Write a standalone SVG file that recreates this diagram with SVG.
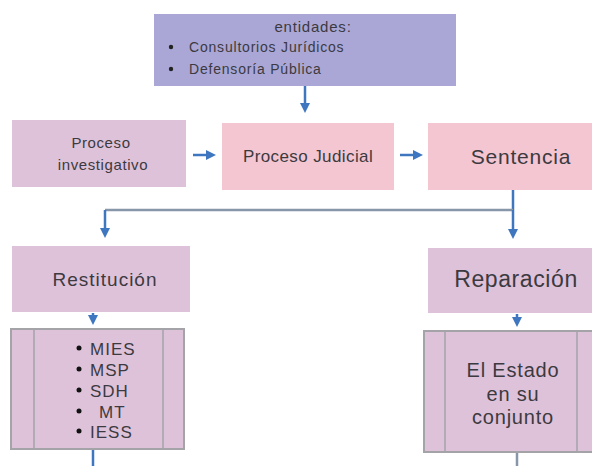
<svg xmlns="http://www.w3.org/2000/svg" width="592" height="466" viewBox="0 0 592 466">
<defs>
<style>
text{font-family:"Liberation Sans","DejaVu Sans",sans-serif;fill:#3c3a40}
.lav{fill:#aaa7d6}
.pink{fill:#f3c6d1}
.mauve{fill:#dec2da}
.box{fill:#dec2da;stroke:#a3a3a8;stroke-width:2}
.inner{stroke:#a3a3a8;stroke-width:1.5}
.arr{stroke:#3f76c0;stroke-width:2.5;fill:none}
.gl{stroke:#8796a8;stroke-width:2.5;fill:none}
</style>
<marker id="ah" markerWidth="4" markerHeight="4" refX="2" refY="2" orient="auto" markerUnits="strokeWidth">
<path d="M0,0 L4,2 L0,4 z" fill="#3f76c0"/>
</marker>
</defs>
<rect width="592" height="466" fill="#ffffff"/>
<g id="connectors">
<line class="arr" x1="305" y1="86" x2="305" y2="108" marker-end="url(#ah)"/>
<line class="arr" x1="193" y1="155" x2="211" y2="155" marker-end="url(#ah)"/>
<line class="arr" x1="400" y1="155" x2="418" y2="155" marker-end="url(#ah)"/>
<line class="arr" x1="513" y1="190" x2="513" y2="210"/>
<line class="gl" x1="105" y1="210" x2="513" y2="210"/>
<line class="arr" x1="105" y1="210" x2="105" y2="233" stroke-width="3.5" marker-end="url(#ah)"/>
<line class="arr" x1="513" y1="210" x2="513" y2="234" marker-end="url(#ah)"/>
<line class="arr" x1="93" y1="313" x2="93" y2="320" marker-end="url(#ah)"/>
<line class="arr" x1="517" y1="314" x2="517" y2="322" marker-end="url(#ah)"/>
<line class="arr" x1="93" y1="450" x2="93" y2="466"/>
<line class="gl" x1="517" y1="452" x2="517" y2="466" stroke="#9aa0a8" stroke-width="1.5"/>
</g>
<g id="entidades">
<rect class="lav" x="154" y="14" width="302" height="72"/>
<text x="313" y="32" font-size="15" letter-spacing="0.8" text-anchor="middle">entidades:</text>
<circle cx="171" cy="47" r="2.2" fill="#222"/>
<text x="189" y="52" font-size="14" letter-spacing="0.8">Consultorios Jurídicos</text>
<circle cx="171" cy="69" r="2.2" fill="#222"/>
<text x="189" y="74" font-size="14" letter-spacing="0.8">Defensoría Pública</text>
</g>
<g id="proceso-investigativo">
<rect class="mauve" x="12" y="120" width="174" height="67"/>
<text x="101" y="148" font-size="15" letter-spacing="0.6" text-anchor="middle">Proceso</text>
<text x="103" y="170" font-size="15" letter-spacing="0.6" text-anchor="middle">investigativo</text>
</g>
<g id="proceso-judicial">
<rect class="pink" x="222" y="123" width="172" height="67"/>
<text x="308" y="162" font-size="17" letter-spacing="0.4" text-anchor="middle">Proceso Judicial</text>
</g>
<g id="sentencia">
<rect class="pink" x="428" y="123" width="164" height="67"/>
<text x="521" y="164" font-size="21" letter-spacing="0.8" text-anchor="middle">Sentencia</text>
</g>
<g id="restitucion">
<rect class="mauve" x="12" y="246" width="178" height="66"/>
<text x="105" y="286" font-size="19" letter-spacing="1" text-anchor="middle">Restitución</text>
</g>
<g id="reparacion">
<rect class="mauve" x="428" y="248" width="164" height="65"/>
<text x="516" y="287" font-size="23" letter-spacing="0.6" text-anchor="middle">Reparación</text>
</g>
<g id="instituciones">
<rect class="box" x="11" y="329" width="173" height="120"/>
<line class="inner" x1="34" y1="329" x2="34" y2="449"/>
<line class="inner" x1="163" y1="329" x2="163" y2="449"/>
<circle cx="79" cy="348" r="2.5" fill="#111"/>
<text x="90" y="355" font-size="17" letter-spacing="1">MIES</text>
<circle cx="79" cy="369" r="2.5" fill="#111"/>
<text x="90" y="376" font-size="17" letter-spacing="1">MSP</text>
<circle cx="79" cy="390" r="2.5" fill="#111"/>
<text x="90" y="397" font-size="17" letter-spacing="1">SDH</text>
<circle cx="79" cy="411" r="2.5" fill="#111"/>
<text x="99" y="418" font-size="17" letter-spacing="1">MT</text>
<circle cx="79" cy="431" r="2.5" fill="#111"/>
<text x="90" y="438" font-size="17" letter-spacing="1">IESS</text>
</g>
<g id="estado">
<rect class="box" x="424" y="331" width="170" height="121"/>
<line class="inner" x1="445" y1="331" x2="445" y2="452"/>
<line class="inner" x1="577" y1="331" x2="577" y2="452"/>
<text x="513" y="377" font-size="20" letter-spacing="0.8" text-anchor="middle">El Estado</text>
<text x="513" y="401" font-size="20" letter-spacing="0.8" text-anchor="middle">en su</text>
<text x="513" y="424" font-size="20" letter-spacing="0.8" text-anchor="middle">conjunto</text>
</g>
</svg>
